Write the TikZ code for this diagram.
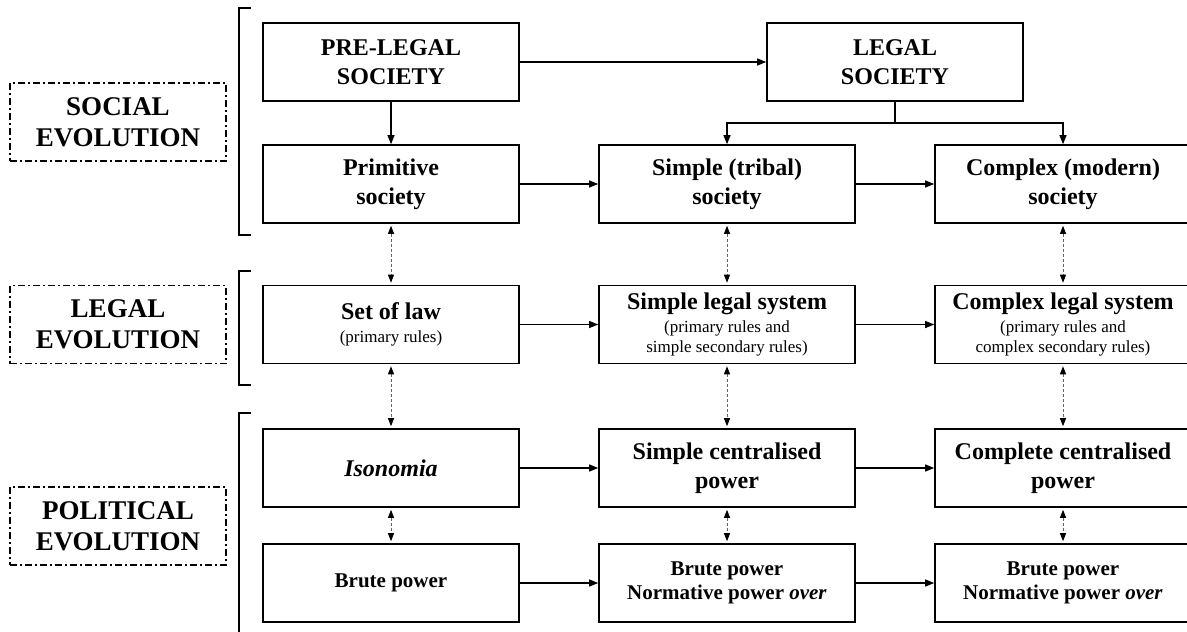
\documentclass[tikz,border=0pt]{standalone}
\usepackage{fontspec}
\setmainfont{Liberation Serif}
\usetikzlibrary{arrows.meta}
\newcommand\rulesize{\normalfont\fontsize{8.5}{10}\selectfont}
\begin{document}
\begin{tikzpicture}[x=.5pt,y=-.5pt,
 box/.style={draw,line width=.8pt,minimum width=128pt,minimum height=39pt,
  inner sep=0pt,align=center,font=\bfseries\fontsize{12}{14.5}\selectfont},
 brute/.style={box,font=\bfseries\fontsize{10.5}{12}\selectfont},
 lab/.style={draw,line width=.6pt,dash pattern=on 3.5pt off 1.5pt on 1pt off 1.5pt,
  minimum width=108pt,minimum height=39pt,inner sep=0pt,align=center,
  font=\bfseries\fontsize{13.5}{15.5}\selectfont},
 arr/.style={-{Triangle[length=4.5pt,width=3.5pt]},line width=.6pt},
 link/.style={{Triangle[length=4pt,width=3pt,color=black]}-{Triangle[length=4pt,width=3pt,color=black]},
  dash pattern=on 1.5pt off 1pt,line width=.5pt,draw=gray!80!black}]
 \useasboundingbox (0,0) rectangle (1187,631);
 \clip (0,0) rectangle (1187,631);
 % labels and brackets
 \path
 (118,122) node[lab] (social) {SOCIAL\\EVOLUTION}
 (118,324.5) node[lab] (legal) {LEGAL\\EVOLUTION}
 (118,526) node[lab] (political) {POLITICAL\\EVOLUTION};
 \draw[line width=.6pt]
 (251,8)--(239,8)--(239,235)--(251,235)
 (251,271)--(239,271)--(239,385)--(251,385)
 (251,413)--(239,413)--(239,640);
 \path
 (391,62) node[box] (pre) {PRE-LEGAL\\SOCIETY} % <<< row 0
 ++(504,0) node[box] (leg) {LEGAL\\SOCIETY}
 (391,184) node[box] (prim) {Primitive\\society} % <<< row 1
 ++(336,0) node[box] (simp) {Simple (tribal)\\society}
 ++(336,0) node[box] (comp) {Complex (modern)\\society}
 (391,324.5) node[box] (setlaw) {Set of law\\[-3pt]{\rulesize (primary rules)}} % <<< row 2
 ++(336,0) node[box] (slegal) {Simple legal system\\[-3pt]{\rulesize (primary rules and}\\[-4.5pt]{\rulesize simple secondary rules)}}
 ++(336,0) node[box] (clegal) {Complex legal system\\[-3pt]{\rulesize (primary rules and}\\[-4.5pt]{\rulesize complex secondary rules)}}
 (391,468) node[box] (iso) {\textit{Isonomia}} % <<< row 3
 ++(336,0) node[box] (scent) {Simple centralised\\power}
 ++(336,0) node[box] (ccent) {Complete centralised\\power}
 (391,583) node[brute] (brute1) {Brute power} % <<< row 4
 ++(336,0) node[brute] (brute2) {Brute power\\Normative power \textit{over}}
 ++(336,0) node[brute] (brute3) {Brute power\\Normative power \textit{over}};
 \coordinate (fork) at (895,123);
 \draw[line width=.6pt] (leg)--(fork);
 \begin{scope}[arr]
 \draw (pre)--(leg);
 \draw (pre)--(prim);
 \draw (fork)-|(simp);
 \draw (fork)-|(comp);
 \draw (prim)--(simp);
 \draw (simp)--(comp);
 \draw (setlaw)--(slegal);
 \draw (slegal)--(clegal);
 \draw (iso)--(scent);
 \draw (scent)--(ccent);
 \draw (brute1)--(brute2);
 \draw (brute2)--(brute3);
 \end{scope}
 \begin{scope}[link,shorten <=1pt,shorten >=1pt]
 \draw (prim)--(setlaw);
 \draw (simp)--(slegal);
 \draw (comp)--(clegal);
 \draw (setlaw)--(iso);
 \draw (slegal)--(scent);
 \draw (clegal)--(ccent);
 \draw (iso)--(brute1);
 \draw (scent)--(brute2);
 \draw (ccent)--(brute3);
 \end{scope}
\end{tikzpicture}
\end{document}
